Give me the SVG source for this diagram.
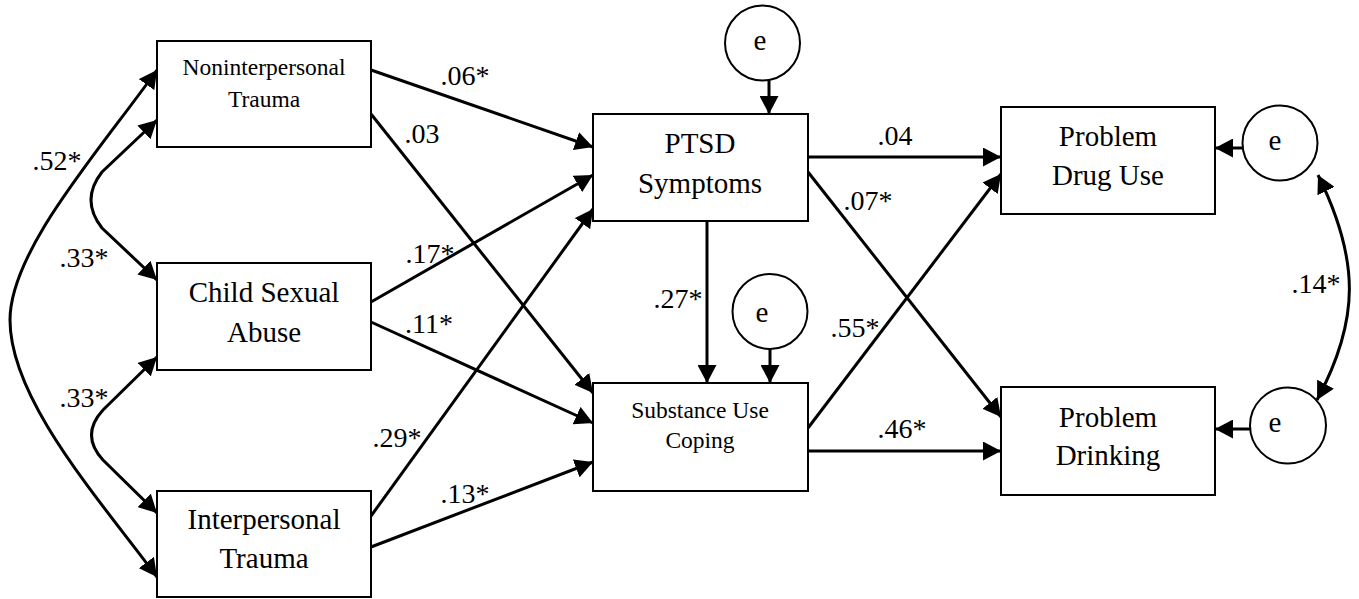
<svg xmlns="http://www.w3.org/2000/svg" width="1359" height="599" viewBox="0 0 1359 599" font-family="Liberation Serif, Times New Roman, serif">
<defs>
<marker id="ah" markerUnits="userSpaceOnUse" markerWidth="19" markerHeight="19" refX="18" refY="9.5" orient="auto-start-reverse">
<path d="M0,0 L18,9.5 L0,19 z" fill="#000"/>
</marker>
<style>
.box{fill:#fff;stroke:#000;stroke-width:2}
.circ{fill:#fff;stroke:#000;stroke-width:2}
text{fill:#000;text-anchor:middle}
.t{font-size:29px}
.ts{font-size:23.5px}
.lbl{font-size:28px}
.c{fill:none;stroke:#000;stroke-width:3;marker-end:url(#ah)}
.d{fill:none;stroke:#000;stroke-width:3;marker-start:url(#ah);marker-end:url(#ah)}
</style>
</defs>
<rect width="1359" height="599" fill="#fff"/>
<g id="connectors">
<line class="c" x1="371" y1="70" x2="593" y2="147"/>
<line class="c" x1="371" y1="114" x2="593" y2="393"/>
<line class="c" x1="371" y1="302" x2="593" y2="175"/>
<line class="c" x1="371" y1="322" x2="593" y2="423"/>
<line class="c" x1="371" y1="516" x2="593" y2="209"/>
<line class="c" x1="371" y1="547" x2="593" y2="462"/>
<line class="c" x1="808" y1="157" x2="1001" y2="157"/>
<line class="c" x1="808" y1="172" x2="1001" y2="417"/>
<line class="c" x1="808" y1="428" x2="1001" y2="174"/>
<line class="c" x1="808" y1="451" x2="1001" y2="451"/>
<line class="c" x1="707" y1="221" x2="707" y2="383"/>
<line class="c" x1="769" y1="81" x2="769" y2="114"/>
<line class="c" x1="770" y1="349" x2="770" y2="383"/>
<line class="c" x1="1243" y1="148" x2="1215" y2="148"/>
<line class="c" x1="1250" y1="429" x2="1215" y2="429"/>
<path class="d" d="M157,70 C100,150 10,250 10,320 C10,400 100,500 157,577"/>
<path class="d" d="M157,120 L102,172 Q80,200 102,228 L157,280"/>
<path class="d" d="M157,357 L103,410 Q80,435 103,460 L157,513"/>
<path class="d" d="M1318,175 C1360,260 1360,320 1317,400"/>
<text class="lbl" x="465" y="85" font-family="Liberation Serif">.06*</text>
<text class="lbl" x="422" y="143" font-family="Liberation Serif">.03</text>
<text class="lbl" x="430" y="263" font-family="Liberation Serif">.17*</text>
<text class="lbl" x="429" y="333" font-family="Liberation Serif">.11*</text>
<text class="lbl" x="397" y="447" font-family="Liberation Serif">.29*</text>
<text class="lbl" x="465" y="503" font-family="Liberation Serif">.13*</text>
<text class="lbl" x="895" y="145" font-family="Liberation Serif">.04</text>
<text class="lbl" x="868" y="210" font-family="Liberation Serif">.07*</text>
<text class="lbl" x="855" y="337" font-family="Liberation Serif">.55*</text>
<text class="lbl" x="902" y="438" font-family="Liberation Serif">.46*</text>
<text class="lbl" x="678" y="308" font-family="Liberation Serif">.27*</text>
<text class="lbl" x="1316" y="293" font-family="Liberation Serif">.14*</text>
<text class="lbl" x="57" y="170" font-family="Liberation Serif">.52*</text>
<text class="lbl" x="84" y="267" font-family="Liberation Serif">.33*</text>
<text class="lbl" x="84" y="407" font-family="Liberation Serif">.33*</text>
</g>
<g id="nonint" font-family="Liberation Serif">
<rect class="box" x="157" y="41" width="214" height="106"/>
<text class="ts" x="264" y="75">Noninterpersonal</text>
<text class="ts" x="264" y="107">Trauma</text>
</g>
<g id="csa" font-family="Liberation Serif">
<rect class="box" x="157" y="263" width="214" height="107"/>
<text class="t" x="264" y="302">Child Sexual</text>
<text class="t" x="264" y="342">Abuse</text>
</g>
<g id="interp" font-family="Liberation Serif">
<rect class="box" x="157" y="491" width="214" height="106"/>
<text class="t" x="264" y="529">Interpersonal</text>
<text class="t" x="264" y="568">Trauma</text>
</g>
<g id="ptsd" font-family="Liberation Serif">
<rect class="box" x="593" y="114" width="215" height="107"/>
<text class="t" x="700" y="153">PTSD</text>
<text class="t" x="700" y="193">Symptoms</text>
</g>
<g id="suc" font-family="Liberation Serif">
<rect class="box" x="593" y="383" width="215" height="108"/>
<text class="ts" x="700" y="418">Substance Use</text>
<text class="ts" x="700" y="448">Coping</text>
</g>
<g id="pdu" font-family="Liberation Serif">
<rect class="box" x="1001" y="107" width="214" height="107"/>
<text class="t" x="1108" y="146">Problem</text>
<text class="t" x="1108" y="185">Drug Use</text>
</g>
<g id="pd" font-family="Liberation Serif">
<rect class="box" x="1001" y="387" width="214" height="108"/>
<text class="t" x="1108" y="427">Problem</text>
<text class="t" x="1108" y="465">Drinking</text>
</g>
<g id="e1" font-family="Liberation Serif">
<circle class="circ" cx="762.5" cy="43" r="37.5"/>
<text class="t" x="760" y="50">e</text>
</g>
<g id="e2" font-family="Liberation Serif">
<circle class="circ" cx="770" cy="311.5" r="37.5"/>
<text class="t" x="762" y="322">e</text>
</g>
<g id="e3" font-family="Liberation Serif">
<circle class="circ" cx="1280" cy="143" r="37.5"/>
<text class="t" x="1275" y="150">e</text>
</g>
<g id="e4" font-family="Liberation Serif">
<circle class="circ" cx="1288" cy="425.5" r="38"/>
<text class="t" x="1275" y="432">e</text>
</g>
</svg>
